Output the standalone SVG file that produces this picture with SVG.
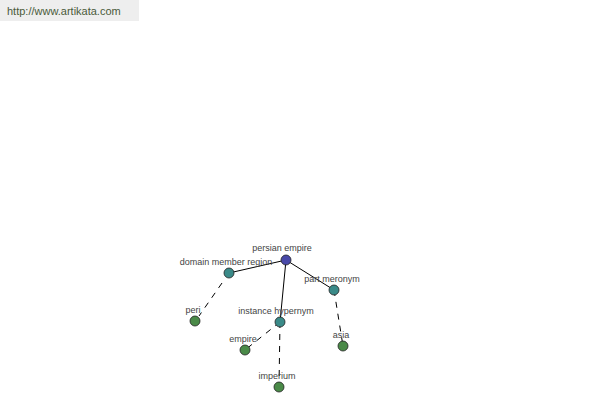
<svg xmlns="http://www.w3.org/2000/svg" width="600" height="400" viewBox="0 0 600 400">
<style>
.lbl{font-family:"Liberation Sans",Arial,sans-serif;font-size:9px;fill:#444;text-anchor:middle}
.n{stroke:#222;stroke-width:0.8}
.root{fill:#4848a8}
.mid{fill:#3a8a88}
.leaf{fill:#4a8a48}
.solid{stroke:#000;stroke-width:1;fill:none}
.dash{stroke:#000;stroke-width:1;fill:none;stroke-dasharray:6 6}
</style>
<rect x="0" y="0" width="139" height="21" fill="#eeeeee"/>
<text x="7" y="15" style="font-family:'Liberation Sans',Arial,sans-serif;font-size:11px;fill:#4a5a3a">http://www.artikata.com</text>
<g id="connectors">
<line class="solid" x1="286" y1="260" x2="229" y2="273"/>
<line class="solid" x1="286" y1="260" x2="334" y2="290"/>
<line class="solid" x1="286" y1="260" x2="280" y2="322"/>
<line class="dash" x1="222" y1="283" x2="199" y2="316"/>
<line class="dash" x1="334" y1="290" x2="343" y2="346"/>
<line class="dash" x1="280" y1="322" x2="245" y2="350"/>
<line class="dash" x1="280" y1="322" x2="279" y2="387"/>
</g>
<g id="persian-empire"><circle class="n root" cx="286" cy="260" r="5"/><text class="lbl" x="282" y="251">persian empire</text></g>
<g id="domain-member-region"><circle class="n mid" cx="229" cy="273" r="5"/><text class="lbl" x="226" y="265">domain member region</text></g>
<g id="part-meronym"><circle class="n mid" cx="334" cy="290" r="5"/><text class="lbl" x="332" y="282">part meronym</text></g>
<g id="instance-hypernym"><circle class="n mid" cx="280" cy="322" r="5"/><text class="lbl" x="276" y="314">instance hypernym</text></g>
<g id="peri"><circle class="n leaf" cx="195" cy="321" r="5"/><text class="lbl" x="193" y="313">peri</text></g>
<g id="empire"><circle class="n leaf" cx="245" cy="350" r="5"/><text class="lbl" x="243" y="342">empire</text></g>
<g id="asia"><circle class="n leaf" cx="343" cy="346" r="5"/><text class="lbl" x="341" y="338">asia</text></g>
<g id="imperium"><circle class="n leaf" cx="279" cy="387" r="5"/><text class="lbl" x="277" y="379">imperium</text></g>
</svg>
